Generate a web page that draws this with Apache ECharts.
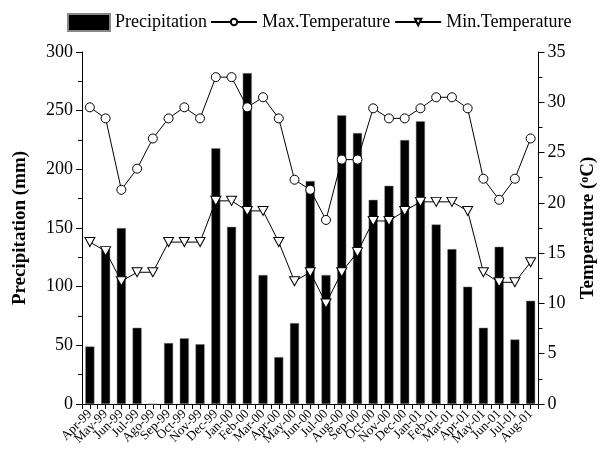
<!DOCTYPE html>
<html>
<head>
<meta charset="utf-8">
<script src="https://cdn.jsdelivr.net/npm/echarts@6/dist/echarts.min.js"></script>
<style>html,body{margin:0;padding:0;background:#fff}#c{width:606px;height:450px}</style>
</head>
<body>
<div id="c"></div>
<script>
var months = ['Apr-99','May-99','Jun-99','Jul-99','Ago-99','Sep-99','Oct-99','Nov-99','Dec-99',
  'Jan-00','Feb-00','Mar-00','Apr-00','May-00','Jun-00','Jul-00','Aug-00','Sep-00','Oct-00','Nov-00','Dec-00',
  'Jan-01','Feb-01','Mar-01','Apr-01','May-01','Jun-01','Jul-01','Aug-01'];
var precipitation = [49,132,150,65,0,52,56,51,218,151,282,110,40,69,190,110,246,231,174,186,225,241,153,132,100,65,134,55,88];
var maxTemperature = [29.5,28.4,21.3,23.4,26.4,28.4,29.5,28.4,32.5,32.5,29.5,30.5,28.4,22.3,21.3,18.3,24.3,24.3,29.4,28.4,28.4,29.4,30.5,30.5,29.4,22.4,20.3,22.4,26.4];
var minTemperature = [16.1,15.2,12.2,13.1,13.1,16.1,16.1,16.1,20.2,20.2,19.2,19.2,16.1,12.2,13.1,10.0,13.1,15.1,18.2,18.2,19.2,20.1,20.1,20.1,19.2,13.1,12.1,12.1,14.1];
var precipTicks = [0,50,100,150,200,250,300];
var tempTicks = [0,5,10,15,20,25,30,35];

var halfCats = [];
for (var i = 0; i < months.length * 2; i++) halfCats.push(String(i));

var font = 'Liberation Serif, Times New Roman, serif';
var chart = echarts.init(document.getElementById('c'), null, {renderer: 'canvas'});
chart.setOption({
  animation: false,
  textStyle: {fontFamily: font, color: '#000'},
  legend: [{
    top: 8, left: 62,
    itemWidth: 42, itemHeight: 17, itemGap: 0,
    textStyle: {fontFamily: font, fontSize: 18, color: '#000'},
    data: [{name: 'Precipitation', icon: 'rect'}]
  }, {
    top: 8, left: 205,
    itemWidth: 46, itemHeight: 8, itemGap: 4,
    textStyle: {fontFamily: font, fontSize: 18, color: '#000'},
    data: ['Max.Temperature', 'Min.Temperature']
  }],
  grid: {left: 82, right: 57, top: 52, bottom: 46, containLabel: false},
  xAxis: [{
    type: 'category', data: months, boundaryGap: true,
    axisLine: {lineStyle: {color: '#000', width: 1}},
    axisTick: {show: false},
    axisLabel: {interval: 0, rotate: 45, fontFamily: font, fontSize: 13, color: '#000', margin: 8}
  }, {
    type: 'category', data: halfCats, boundaryGap: true, position: 'bottom',
    axisLine: {show: false},
    axisTick: {show: true, interval: 0, length: 5, lineStyle: {color: '#000'}},
    axisLabel: {show: false}
  }],
  yAxis: [{
    type: 'value', min: 0, max: 300, interval: 50,
    name: 'Precipitation (mm)', nameLocation: 'middle', nameGap: 52, nameRotate: 90,
    nameTextStyle: {fontFamily: font, fontSize: 19, fontWeight: 'bold', color: '#000'},
    axisLine: {show: true, lineStyle: {color: '#000'}},
    axisTick: {show: true, length: 6, lineStyle: {color: '#000'}},
    minorTick: {show: true, splitNumber: 2, length: 4, lineStyle: {color: '#000'}},
    splitLine: {show: false},
    axisLabel: {fontFamily: font, fontSize: 18, color: '#000', margin: 9}
  }, {
    type: 'value', min: 0, max: 35, interval: 5, position: 'right',
    name: 'Temperature ({s|o}C)', nameLocation: 'middle', nameGap: 40, nameRotate: 90,
    nameTextStyle: {fontFamily: font, fontSize: 19, fontWeight: 'bold', color: '#000',
      rich: {s: {fontFamily: font, fontSize: 12, fontWeight: 'bold', verticalAlign: 'top', padding: [0,0,8,0]}}},
    axisLine: {show: true, lineStyle: {color: '#000'}},
    axisTick: {show: true, length: 6, lineStyle: {color: '#000'}},
    minorTick: {show: true, splitNumber: 2, length: 4, lineStyle: {color: '#000'}},
    splitLine: {show: false},
    axisLabel: {fontFamily: font, fontSize: 18, color: '#000', margin: 9}
  }],
  series: [{
    name: 'Precipitation', type: 'bar', data: precipitation, barWidth: '58%',
    xAxisIndex: 0, yAxisIndex: 0,
    itemStyle: {color: '#000', borderColor: '#888', borderWidth: 0.5}
  }, {
    name: 'Max.Temperature', type: 'line', data: maxTemperature,
    xAxisIndex: 0, yAxisIndex: 1,
    symbol: 'circle', symbolSize: 9,
    lineStyle: {color: '#000', width: 1},
    itemStyle: {color: '#fff', borderColor: '#000', borderWidth: 1}
  }, {
    name: 'Min.Temperature', type: 'line', data: minTemperature,
    xAxisIndex: 0, yAxisIndex: 1,
    symbol: 'triangle', symbolRotate: 180, symbolSize: [10, 9],
    lineStyle: {color: '#000', width: 1},
    itemStyle: {color: '#fff', borderColor: '#000', borderWidth: 1}
  }]
});
</script>
</body>
</html>
